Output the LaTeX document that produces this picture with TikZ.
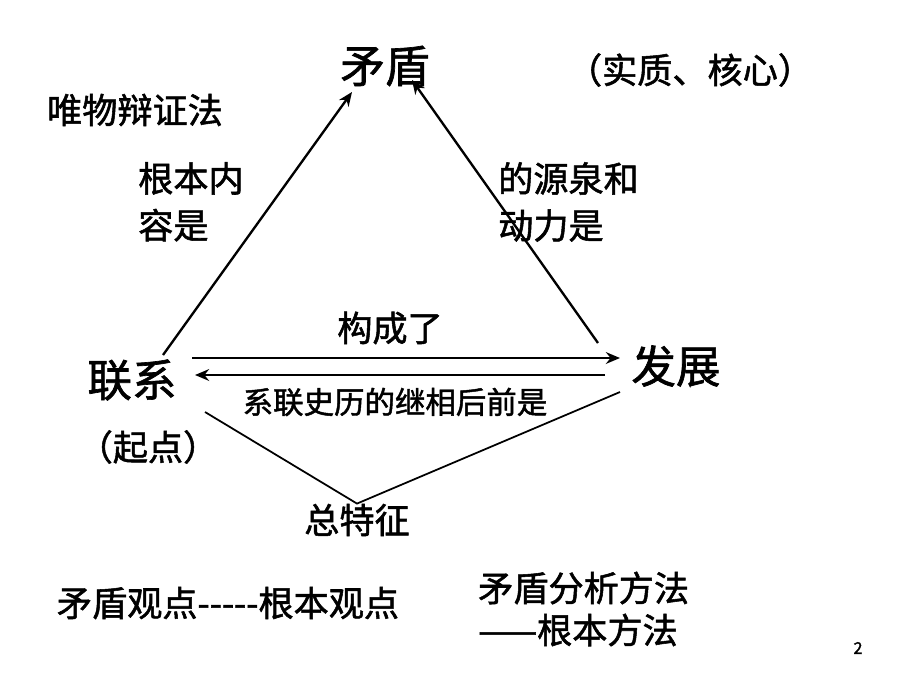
\documentclass[tikz,border=0pt]{standalone}
\usepackage{fontspec}
\setmainfont{Noto Sans CJK SC}[FakeBold=1.5]
\usepackage{tikz}
\usetikzlibrary{arrows.meta, positioning}

\begin{document}
\begin{tikzpicture}[x=0.03cm, y=-0.03cm,
      big/.style={inner sep=0pt, font=\fontsize{38}{40}\selectfont},
      mid/.style={inner sep=0pt, font=\fontsize{30}{40}\selectfont, align=left},
      sml/.style={inner sep=0pt, font=\fontsize{26}{28}\selectfont},
      arr/.style={-{Stealth[length=12pt, width=10pt]}, line width=2pt},
      ln/.style={line width=1.5pt}]
      \useasboundingbox (0,0) rectangle (920,690);
      \node[big] (mao)  at (385, 66) {矛盾};
      \node[big] (lx)   at (132,380) {联系};
      \node[big] (fz)   at (676,366) {发展};
      \node[mid] (core) at (690, 70) {（实质、核心）};
      \node[mid] (wu)   at (135,110) {唯物辩证法};
      \node[mid, anchor=north west] (gb) at (138,162) {根本内\\容是};
      \node[mid, anchor=north west] (dy) at (498,162) {的源泉和\\动力是};
      \node[mid] (gc)   at (390,328) {构成了};
      \node[sml] (xl)   at (395,402) {系联史历的继相后前是};
      \node[mid] (qd)   at (148,447) {（起点）};
      \node[mid] (zt)   at (357,520) {总特征};
      \node[mid] (gd)   at (228,603) {矛盾观点{-}{-}{-}{-}{-}根本观点};
      \node[mid, anchor=west] (fx) at (478,588) {矛盾分析方法};
      \node[mid, anchor=west] (ff) at (478,630) {——根本方法};
      \node[font=\fontsize{14}{16}\selectfont\mdseries] (pg) at (858,648) {2};
      % connectors
      \coordinate (a1) at (163,355);
      \coordinate (a2) at (598,343);
      \draw[arr] (a1) -- (352,92);
      \draw[arr] (a2) -- (412,80);
      \draw[arr] (192,358) coordinate (h1) -- (620,358) coordinate (h2);
      \draw[arr] (605,375) coordinate (h3) -- (195,375) coordinate (h4);
      \coordinate (v1) at (205,412);
      \coordinate (v2) at (620,392);
      \draw[ln] (v1) -- (zt.north) -- (v2);
\end{tikzpicture}
\end{document}
